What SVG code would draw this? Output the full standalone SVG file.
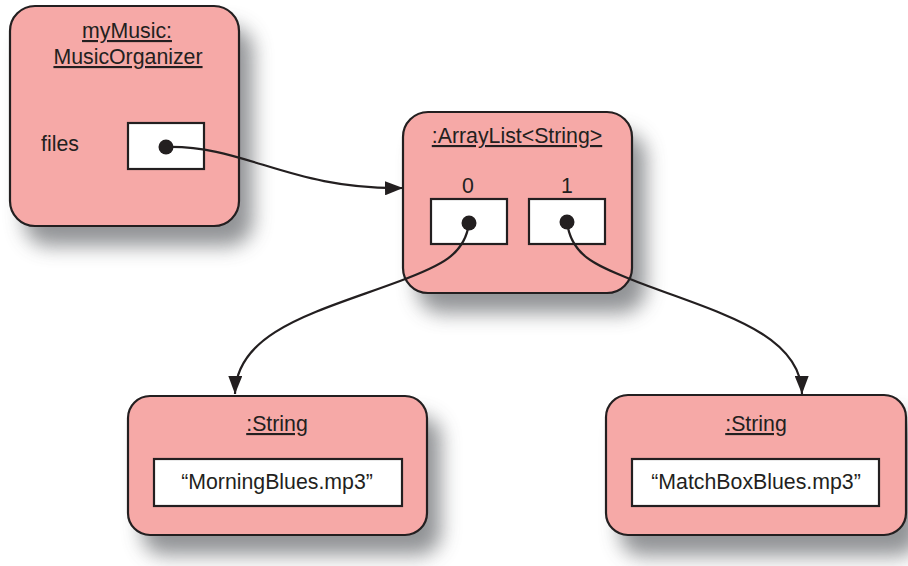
<svg xmlns="http://www.w3.org/2000/svg" width="908" height="566" viewBox="0 0 908 566">
<defs>
<filter id="sh" x="-30%" y="-30%" width="160%" height="160%">
<feGaussianBlur stdDeviation="10"/>
</filter>
<marker id="arr" markerWidth="20" markerHeight="14" refX="18" refY="7" orient="auto" markerUnits="userSpaceOnUse">
<path d="M0,0 L18,7 L0,14 Z" fill="#231f20"/>
</marker>
</defs>
<style>
.box{fill:#f6a9a7;stroke:#231f20;stroke-width:2.2}
.shadow{fill:#7f8184;opacity:0.85;filter:url(#sh)}
.slot{fill:#ffffff;stroke:#231f20;stroke-width:2.2}
.dot{fill:#231f20}
text{font-family:"Liberation Sans",Arial,sans-serif;font-size:21.3px;fill:#231f20}
.t{text-anchor:middle;text-decoration:underline}
.c{text-anchor:middle}
.conn{fill:none;stroke:#231f20;stroke-width:2.2;marker-end:url(#arr)}
</style>
<rect width="908" height="566" fill="#ffffff"/>

<g id="myMusic">
<rect class="shadow" x="24" y="26" width="229" height="220" rx="25"/>
<rect class="box" x="10" y="6" width="229" height="220" rx="25"/>
<text class="t" x="127" y="38">myMusic:</text>
<text class="t" x="128" y="64">MusicOrganizer</text>
<text x="41" y="151">files</text>
<rect class="slot" x="128" y="123" width="76" height="46"/>
<circle class="dot" cx="166" cy="147" r="7.5"/>
</g>

<g id="arrayList">
<rect class="shadow" x="417" y="132" width="229" height="181" rx="25"/>
<rect class="box" x="403" y="112" width="229" height="181" rx="25"/>
<text class="t" x="517" y="143">:ArrayList&lt;String&gt;</text>
<text class="c" x="468" y="193">0</text>
<text class="c" x="567" y="193">1</text>
<rect class="slot" x="431" y="199" width="76" height="45"/>
<rect class="slot" x="529" y="199" width="76" height="45"/>
<circle class="dot" cx="469" cy="223" r="7.5"/>
<circle class="dot" cx="567" cy="222" r="7.5"/>
</g>

<g id="string1">
<rect class="shadow" x="142" y="416" width="299" height="139" rx="22"/>
<rect class="box" x="128" y="396" width="299" height="139" rx="22"/>
<text class="t" x="277" y="431">:String</text>
<rect class="slot" x="154" y="459" width="248" height="47"/>
<text class="c" x="277" y="489">“MorningBlues.mp3”</text>
</g>

<g id="string2">
<rect class="shadow" x="620" y="416" width="300" height="140" rx="22"/>
<rect class="box" x="606" y="395" width="300" height="140" rx="22"/>
<text class="t" x="756" y="431">:String</text>
<rect class="slot" x="632" y="459" width="247" height="47"/>
<text class="c" x="756" y="489">“MatchBoxBlues.mp3”</text>
</g>

<g id="connectors">
<path class="conn" d="M166,147 C245,145 290,190 403,188"/>
<path class="conn" d="M469,223 C465,255 440,266 400,281 C320,311 236,330 235,394"/>
<path class="conn" d="M567,222 C571,255 595,265 630,279 C710,311 801,330 802,394"/>
</g>
</svg>
